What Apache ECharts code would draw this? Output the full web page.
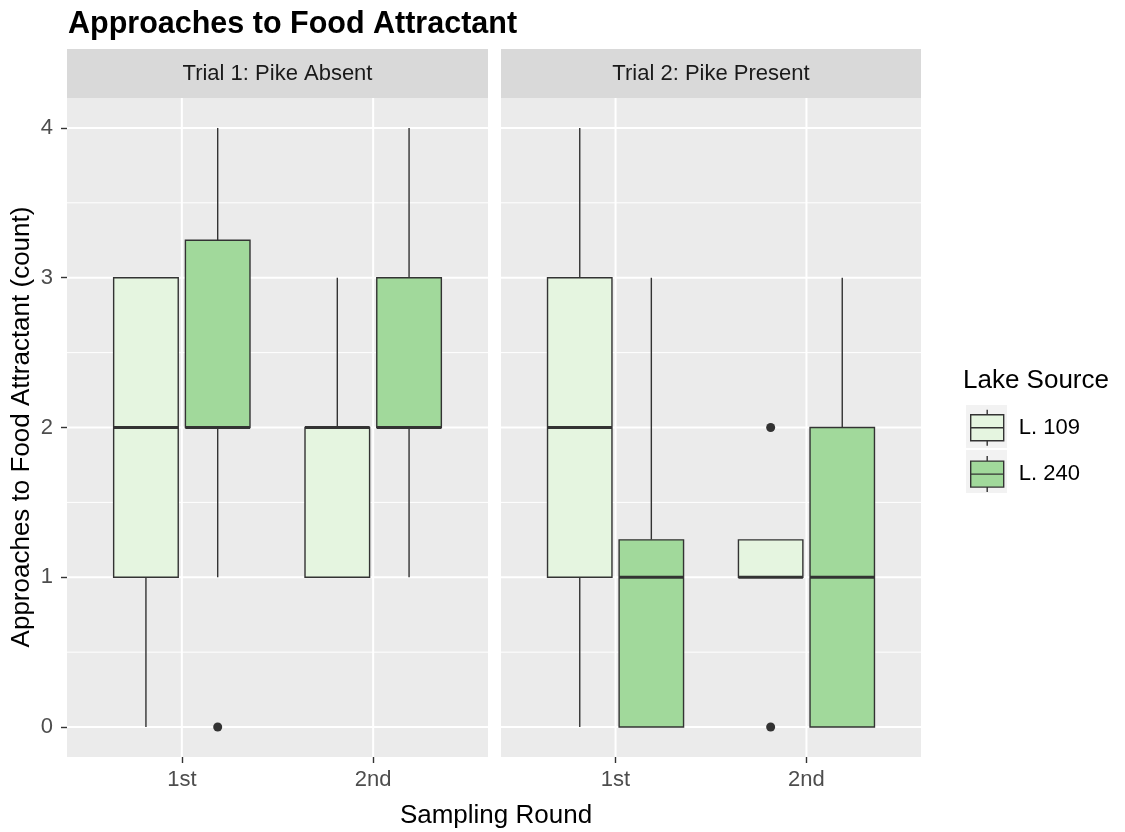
<!DOCTYPE html>
<html>
<head>
<meta charset="UTF-8">
<title>Approaches to Food Attractant</title>
<script src="https://cdn.jsdelivr.net/npm/echarts@6/dist/echarts.min.js"></script>
</head>
<body style="margin:0;background:#fff;">
<div id="main" style="width:1125px;height:832px;"></div>
<script>
// categories
var rounds = ['1st', '2nd'];
var trials = ['Trial 1: Pike Absent', 'Trial 2: Pike Present'];
var sources = ['L. 109', 'L. 240'];
var yTicks = [0, 1, 2, 3, 4];
var yMinor = [0.5, 1.5, 2.5, 3.5];
var xTicks = [1, 2];

// box stats: [round, lower whisker, Q1, median, Q3, upper whisker]
var t1L109 = [[1, 0, 1, 2, 3, 3], [2, 1, 1, 2, 2, 3]];
var t1L240 = [[1, 1, 2, 2, 3.25, 4], [2, 1, 2, 2, 3, 4]];
var t2L109 = [[1, 0, 1, 2, 3, 4], [2, 1, 1, 1, 1.25, 1.25]];
var t2L240 = [[1, 0, 0, 1, 1.25, 3], [2, 0, 0, 1, 2, 3]];

// outliers: [round, value]
var t1Out109 = [];
var t1Out240 = [[1, 0]];
var t2Out109 = [[2, 2], [2, 0]];
var t2Out240 = [];

var colors = ['#e5f5e0', '#a1d99b'];
var boxW = 0.3375;
var dodge = 0.1875;
var font = 'Liberation Sans, Arial, sans-serif';

var myChart = echarts.init(document.getElementById('main'));

function boxRender(offset) {
    return function (params, api) {
        var x = api.value(0) + offset;
        var lo = api.coord([x, api.value(1)]);
        var q1 = api.coord([x, api.value(2)]);
        var md = api.coord([x, api.value(3)]);
        var q3 = api.coord([x, api.value(4)]);
        var hi = api.coord([x, api.value(5)]);
        var w = api.size([boxW, 0])[0];
        var cx = q1[0];
        var ln = {stroke: '#333333', lineWidth: 1.4};
        return {
            type: 'group',
            children: [
                {type: 'line', shape: {x1: cx, y1: hi[1], x2: cx, y2: q3[1]}, style: ln},
                {type: 'line', shape: {x1: cx, y1: q1[1], x2: cx, y2: lo[1]}, style: ln},
                {type: 'rect', shape: {x: cx - w / 2, y: q3[1], width: w, height: q1[1] - q3[1]},
                    style: {fill: api.visual('color'), stroke: '#333333', lineWidth: 1.4}},
                {type: 'line', shape: {x1: cx - w / 2, y1: md[1], x2: cx + w / 2, y2: md[1]},
                    style: {stroke: '#333333', lineWidth: 2.8}}
            ]
        };
    };
}

function hLines(width) {
    return function (params, api) {
        var cs = params.coordSys;
        var y = api.coord([1, api.value(0)])[1];
        return {type: 'line', silent: true,
            shape: {x1: cs.x, y1: y, x2: cs.x + cs.width, y2: y},
            style: {stroke: '#ffffff', lineWidth: width}};
    };
}
function vLines(params, api) {
    var cs = params.coordSys;
    var x = api.coord([api.value(0), 0])[0];
    return {type: 'line', silent: true,
        shape: {x1: x, y1: cs.y, x2: x, y2: cs.y + cs.height},
        style: {stroke: '#ffffff', lineWidth: 2}};
}

var grids = [
    {left: 67, top: 98, width: 421, height: 659},
    {left: 501, top: 98, width: 420, height: 659}
];
var boxData = [[t1L109, t1L240], [t2L109, t2L240]];
var outData = [[t1Out109, t1Out240], [t2Out109, t2Out240]];

var xAxes = [], yAxes = [], series = [];
for (var g = 0; g < 2; g++) {
    xAxes.push({
        type: 'value', gridIndex: g, min: 0.4, max: 2.6, position: 'bottom',
        axisLine: {show: false, onZero: false},
        splitLine: {show: false},
        axisTick: {show: true, customValues: xTicks, length: 6, lineStyle: {color: '#333333', width: 1.4}},
        axisLabel: {customValues: xTicks, color: '#4d4d4d', fontSize: 22, fontFamily: font, margin: 12,
            formatter: function (v) { return rounds[Math.round(v) - 1]; }}
    });
    yAxes.push({
        type: 'value', gridIndex: g, min: -0.2, max: 4.2, position: 'left',
        axisLine: {show: false, onZero: false},
        splitLine: {show: false},
        axisTick: {show: g === 0, customValues: yTicks, length: 6, lineStyle: {color: '#333333', width: 1.4}},
        axisLabel: {show: g === 0, customValues: yTicks, color: '#4d4d4d', fontSize: 22, fontFamily: font, margin: 14}
    });
    series.push({type: 'custom', name: 'minor' + g, xAxisIndex: g, yAxisIndex: g, z: 1, silent: true,
        renderItem: hLines(1), data: yMinor.map(function (v) { return [v]; })});
    series.push({type: 'custom', name: 'major' + g, xAxisIndex: g, yAxisIndex: g, z: 1, silent: true,
        renderItem: hLines(2), data: yTicks.map(function (v) { return [v]; })});
    series.push({type: 'custom', name: 'vmajor' + g, xAxisIndex: g, yAxisIndex: g, z: 1, silent: true,
        renderItem: vLines, data: xTicks.map(function (v) { return [v]; })});
    for (var s = 0; s < 2; s++) {
        var off = s === 0 ? -dodge : dodge;
        series.push({type: 'custom', name: sources[s], xAxisIndex: g, yAxisIndex: g, z: 3,
            itemStyle: {color: colors[s]},
            renderItem: boxRender(off), data: boxData[g][s]});
        series.push({type: 'scatter', name: 'out' + g + s, xAxisIndex: g, yAxisIndex: g, z: 4,
            symbolSize: 9, itemStyle: {color: '#333333', opacity: 1},
            data: outData[g][s].map(function (p) { return [p[0] + this.o, p[1]]; }, {o: off})});
    }
}

var strips = [];
for (var k = 0; k < 2; k++) {
    strips.push({type: 'rect', left: grids[k].left, top: 49,
        shape: {width: grids[k].width, height: 49}, style: {fill: '#d9d9d9'}, z: 0});
    strips.push({type: 'text', x: grids[k].left + grids[k].width / 2, y: 74,
        style: {text: trials[k], fill: '#1a1a1a', font: '22px ' + font, align: 'center', verticalAlign: 'middle'}});
}

myChart.setOption({
    animation: false,
    backgroundColor: '#ffffff',
    title: {
        text: 'Approaches to Food Attractant', left: 63, top: 4,
        textStyle: {fontSize: 30.5, fontWeight: 'bold', color: '#000000', fontFamily: font}
    },
    grid: grids.map(function (gr) {
        return {left: gr.left, top: gr.top, width: gr.width, height: gr.height,
            show: true, backgroundColor: '#ebebeb', borderWidth: 0};
    }),
    xAxis: xAxes,
    yAxis: yAxes,
    legend: {
        data: sources, orient: 'vertical', left: 970, top: 409, padding: 0,
        itemWidth: 33, itemHeight: 36, itemGap: 9,
        icon: 'path://M0,5L33,5L33,31L0,31Z M16.5,0L16.5,5 M16.5,31L16.5,36 M0,18L33,18',
        itemStyle: {borderColor: '#333333', borderWidth: 1.4},
        textStyle: {fontSize: 22, color: '#000000', fontFamily: font, padding: [0, 0, 0, 10]},
        selectedMode: false
    },
    graphic: strips.concat([
        {type: 'rect', left: 966, top: 405, shape: {width: 41, height: 43}, style: {fill: '#f2f2f2'}, z: -1},
        {type: 'rect', left: 966, top: 450, shape: {width: 41, height: 43}, style: {fill: '#f2f2f2'}, z: -1},
        {type: 'text', x: 963, y: 381, style: {text: 'Lake Source', fill: '#000000', font: '26px ' + font, verticalAlign: 'middle'}},
        {type: 'text', x: 496, y: 816, style: {text: 'Sampling Round', fill: '#000000', font: '26px ' + font, align: 'center', verticalAlign: 'middle'}},
        {type: 'text', x: 22, y: 427, rotation: Math.PI / 2,
            style: {text: 'Approaches to Food Attractant (count)', fill: '#000000', font: '26px ' + font, align: 'center', verticalAlign: 'middle'}}
    ]),
    series: series
});
</script>
</body>
</html>
